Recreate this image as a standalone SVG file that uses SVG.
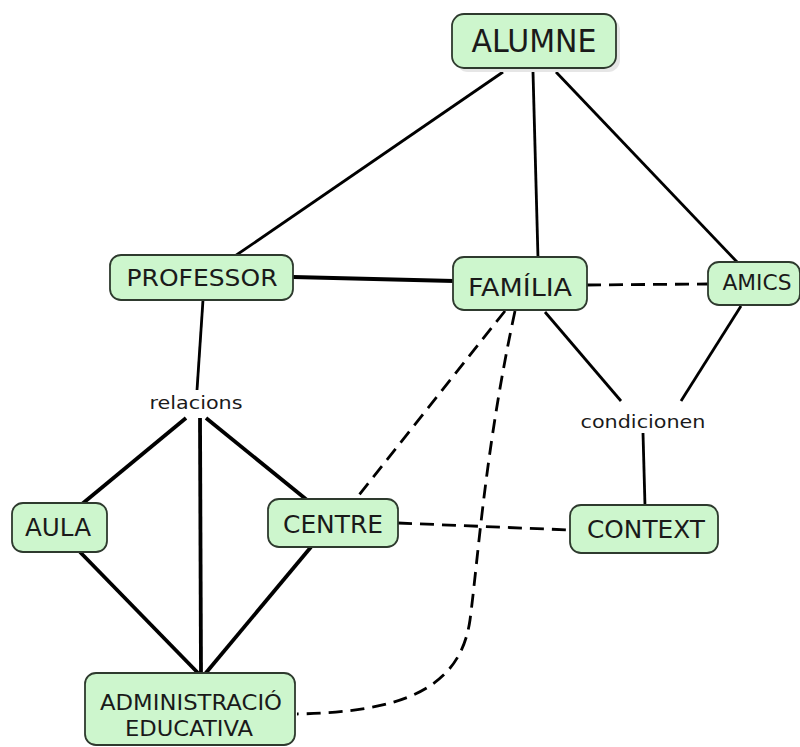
<svg xmlns="http://www.w3.org/2000/svg" width="800" height="747" viewBox="0 0 800 747">
<style>
.box{fill:#cdf6cd;stroke:#2e3a2e;stroke-width:1.8}
.sh{fill:#e6e6e6}
.t{font-family:"DejaVu Sans",Verdana,sans-serif;fill:#1a1a1a;text-anchor:middle}
.lbl{font-family:"DejaVu Sans",Verdana,sans-serif;fill:#1a1a1a;text-anchor:middle;font-size:18px}
.c{fill:none;stroke:#000;stroke-width:2.8;stroke-linecap:butt}
.thick{stroke-width:3.8}
.d{stroke-dasharray:14 8}
</style>
<rect width="800" height="747" fill="#fff"/>
<g id="connectors">
<line class="c" x1="503" y1="72" x2="235" y2="256"/>
<line class="c" x1="533" y1="72" x2="538" y2="258"/>
<line class="c" x1="556" y1="72" x2="738" y2="263"/>
<line class="c thick" x1="293" y1="277" x2="454" y2="281"/>
<line class="c d" x1="587" y1="285" x2="708" y2="284"/>
<line class="c" x1="203" y1="300" x2="197" y2="390"/>
<line class="c thick" x1="186" y1="418" x2="82" y2="504"/>
<line class="c thick" x1="200" y1="418" x2="201" y2="674"/>
<line class="c thick" x1="206" y1="418" x2="307" y2="500"/>
<line class="c thick" x1="80" y1="552" x2="199" y2="674"/>
<line class="c thick" x1="311" y1="547" x2="205" y2="674"/>
<line class="c d" x1="505" y1="311" x2="355" y2="500"/>
<path class="c d" d="M515,311 C485,450 478,560 470,620 C460,690 400,712 297,714"/>
<line class="c d" x1="398" y1="523" x2="570" y2="530"/>
<line class="c" x1="545" y1="312" x2="621" y2="401"/>
<line class="c" x1="741" y1="306" x2="681" y2="401"/>
<line class="c" x1="643" y1="433" x2="645" y2="506"/>
</g>
<g id="relacions"><text class="lbl" x="196" y="409" textLength="93" lengthAdjust="spacingAndGlyphs">relacions</text></g>
<g id="condicionen"><text class="lbl" x="643" y="428" textLength="125" lengthAdjust="spacingAndGlyphs">condicionen</text></g>
<g id="alumne">
<rect class="sh" x="456" y="18" width="164" height="54" rx="12"/>
<rect class="box" x="452" y="14" width="164" height="54" rx="12"/>
<text class="t" x="534" y="52" font-size="32" textLength="125" lengthAdjust="spacingAndGlyphs">ALUMNE</text>
</g>
<g id="professor">
<rect class="box" x="110" y="255" width="183" height="45" rx="11"/>
<text class="t" x="202" y="286" font-size="23" textLength="151" lengthAdjust="spacingAndGlyphs">PROFESSOR</text>
</g>
<g id="familia">
<rect class="box" x="453" y="257" width="134" height="53" rx="11"/>
<text class="t" x="520" y="296" font-size="24" textLength="104" lengthAdjust="spacingAndGlyphs">FAMÍLIA</text>
</g>
<g id="amics">
<rect class="box" x="708" y="262" width="92" height="43" rx="11"/>
<text class="t" x="757" y="290" font-size="21" textLength="69" lengthAdjust="spacingAndGlyphs">AMICS</text>
</g>
<g id="aula">
<rect class="box" x="12" y="503" width="95" height="49" rx="11"/>
<text class="t" x="58" y="536" font-size="24" textLength="66" lengthAdjust="spacingAndGlyphs">AULA</text>
</g>
<g id="centre">
<rect class="box" x="268" y="499" width="130" height="48" rx="11"/>
<text class="t" x="333" y="533" font-size="25" textLength="100" lengthAdjust="spacingAndGlyphs">CENTRE</text>
</g>
<g id="context">
<rect class="box" x="570" y="505" width="148" height="48" rx="11"/>
<text class="t" x="646" y="538" font-size="24" textLength="118" lengthAdjust="spacingAndGlyphs">CONTEXT</text>
</g>
<g id="administracio">
<rect class="box" x="85" y="673" width="210" height="72" rx="11"/>
<text class="t" x="191" y="710" font-size="21" textLength="182" lengthAdjust="spacingAndGlyphs">ADMINISTRACIÓ</text>
<text class="t" x="189" y="736" font-size="21" textLength="128" lengthAdjust="spacingAndGlyphs">EDUCATIVA</text>
</g>
</svg>
